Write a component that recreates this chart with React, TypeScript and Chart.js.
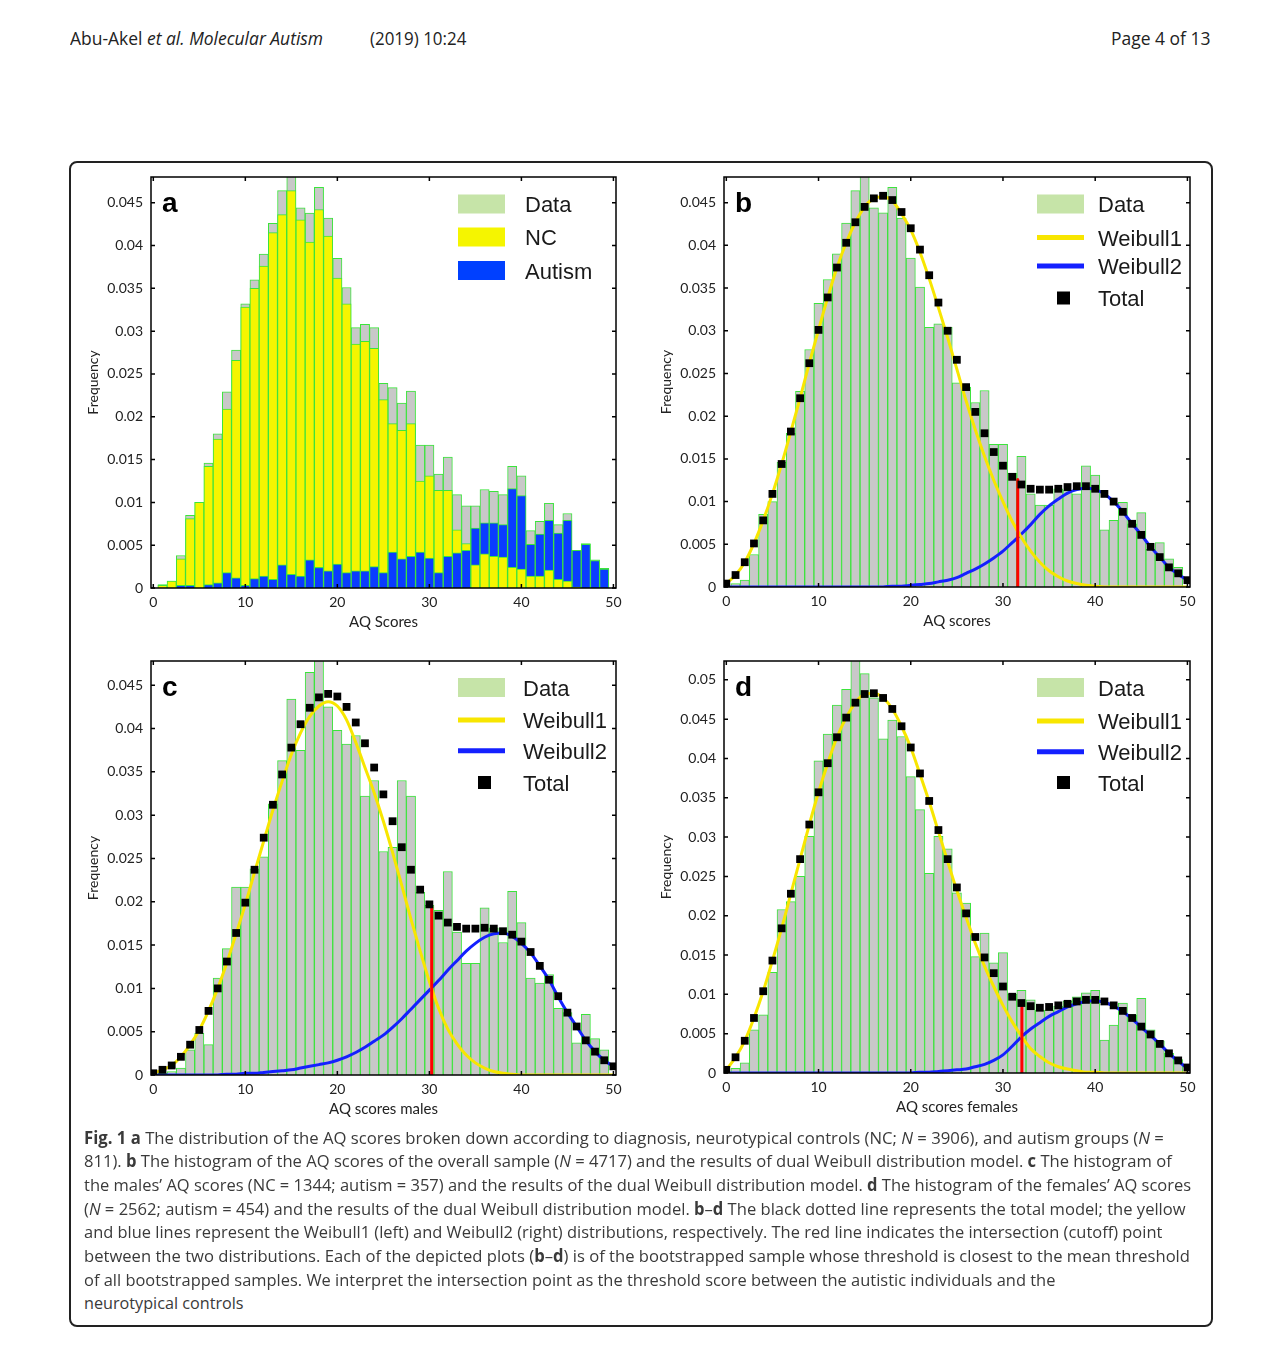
import React, { useEffect, useLayoutEffect, useRef } from "react";
import { Chart, registerables } from "chart.js";
Chart.register(...registerables);

// ---------------- data ----------------
const aqScores = [0, 1, 2, 3, 4, 5, 6, 7, 8, 9, 10, 11, 12, 13, 14, 15, 16, 17, 18, 19, 20, 21, 22, 23, 24, 25, 26, 27, 28, 29, 30, 31, 32, 33, 34, 35, 36, 37, 38, 39, 40, 41, 42, 43, 44, 45, 46, 47, 48, 49, 50];
const xTickValues = [0, 10, 20, 30, 40, 50];
const yTicks045 = [0, 0.005, 0.01, 0.015, 0.02, 0.025, 0.03, 0.035, 0.04, 0.045];
const yTicks050 = [0, 0.005, 0.01, 0.015, 0.02, 0.025, 0.03, 0.035, 0.04, 0.045, 0.05];

// panel a / b : overall sample
const allFreq = [0, 0.0004, 0.0008, 0.0038, 0.0085, 0.0100, 0.0146, 0.0180, 0.0229, 0.0278,
  0.0332, 0.0360, 0.0390, 0.0426, 0.0464, 0.0490, 0.0444, 0.0438, 0.0468, 0.0432,
  0.0385, 0.0351, 0.0304, 0.0308, 0.0304, 0.0239, 0.0234, 0.0216, 0.0230, 0.0167,
  0.0167, 0.0133, 0.0153, 0.0109, 0.0096, 0.0096, 0.0115, 0.0113, 0.0109, 0.0142,
  0.0131, 0.0067, 0.0078, 0.0099, 0.0074, 0.0087, 0.0044, 0.0052, 0.0033, 0.0023, 0];
const ncFreq = [0, 0.0003, 0.0008, 0.0034, 0.0081, 0.0100, 0.0142, 0.0174, 0.0209, 0.0266,
  0.0328, 0.0350, 0.0376, 0.0415, 0.0436, 0.0464, 0.0430, 0.0404, 0.0442, 0.0411,
  0.0362, 0.0332, 0.0285, 0.0288, 0.0280, 0.0220, 0.0192, 0.0184, 0.0192, 0.0125,
  0.0131, 0.0114, 0.0114, 0.0068, 0.0052, 0.0027, 0.0040, 0.0037, 0.0036, 0.0024,
  0.0022, 0.0014, 0.0014, 0.0021, 0.0010, 0.0008, 0.0001, 0, 0, 0, 0];
const autismFreq = [0, 0, 0, 0.0003, 0.0003, 0, 0.0004, 0.0006, 0.0018, 0.0012,
  0.0003, 0.0011, 0.0014, 0.0010, 0.0027, 0.0016, 0.0014, 0.0033, 0.0024, 0.0020,
  0.0028, 0.0018, 0.0020, 0.0020, 0.0025, 0.0018, 0.0042, 0.0034, 0.0037, 0.0042,
  0.0035, 0.0018, 0.0037, 0.0041, 0.0044, 0.0070, 0.0076, 0.0076, 0.0074, 0.0116,
  0.0108, 0.0051, 0.0063, 0.0079, 0.0064, 0.0079, 0.0044, 0.0051, 0.0032, 0.0022, 0];
const allTotalModel = [0.0004, 0.0014, 0.0029, 0.0051, 0.0078, 0.0109, 0.0144, 0.0182, 0.0221, 0.0262,
  0.0301, 0.0339, 0.0374, 0.0403, 0.0427, 0.0445, 0.0455, 0.0458, 0.0453, 0.0439,
  0.0420, 0.0395, 0.0365, 0.0333, 0.0300, 0.0266, 0.0234, 0.0205, 0.0180, 0.0158,
  0.0142, 0.0129, 0.0120, 0.0115, 0.0114, 0.0114, 0.0115, 0.0117, 0.0118, 0.0118,
  0.0115, 0.0109, 0.0100, 0.0088, 0.0074, 0.0061, 0.0047, 0.0035, 0.0023, 0.0016, 0.0008];
const allWeibull1 = [0.0004, 0.0014, 0.0029, 0.0051, 0.0078, 0.0109, 0.0144, 0.0182, 0.0221, 0.0262,
  0.0301, 0.0339, 0.0374, 0.0403, 0.0427, 0.0445, 0.0455, 0.0457, 0.0452, 0.0437,
  0.0418, 0.0392, 0.0361, 0.0327, 0.0292, 0.0255, 0.0218, 0.0184, 0.0153, 0.0125,
  0.0100, 0.0077, 0.0058, 0.0042, 0.0029, 0.0019, 0.0012, 0.0007, 0.0004, 0.0002,
  0.0001, 0, 0, 0, 0, 0, 0, 0, 0, 0, 0];
const allWeibull2 = [0, 0, 0, 0, 0, 0, 0, 0, 0, 0,
  0, 0, 0, 0, 0, 0, 0, 0, 0.0001, 0.0001,
  0.0002, 0.0003, 0.0004, 0.0006, 0.0008, 0.0011, 0.0016, 0.0021, 0.0027, 0.0034,
  0.0042, 0.0052, 0.0062, 0.0073, 0.0085, 0.0095, 0.0103, 0.0110, 0.0114, 0.0116,
  0.0114, 0.0109, 0.0100, 0.0088, 0.0074, 0.0061, 0.0047, 0.0035, 0.0023, 0.0015, 0.0008];

// panel c : males
const malesFreq = [0, 0.0002, 0.0004, 0.0008, 0.0029, 0.0048, 0.0035, 0.0112, 0.0146, 0.0217,
  0.0217, 0.0238, 0.0252, 0.0313, 0.0363, 0.0434, 0.0375, 0.0465, 0.0490, 0.0425,
  0.0398, 0.0382, 0.0392, 0.0322, 0.0340, 0.0258, 0.0263, 0.0340, 0.0322, 0.0211,
  0.0196, 0.0190, 0.0235, 0.0165, 0.0129, 0.0129, 0.0193, 0.0170, 0.0153, 0.0212,
  0.0176, 0.0112, 0.0106, 0.0116, 0.0077, 0.0072, 0.0037, 0.0070, 0.0042, 0.0029, 0];
const malesTotalModel = [0.0002, 0.0006, 0.0011, 0.0021, 0.0035, 0.0052, 0.0074, 0.0100, 0.0131, 0.0164,
  0.0199, 0.0237, 0.0274, 0.0312, 0.0347, 0.0378, 0.0405, 0.0424, 0.0436, 0.0440,
  0.0437, 0.0425, 0.0407, 0.0383, 0.0355, 0.0324, 0.0293, 0.0263, 0.0237, 0.0214,
  0.0197, 0.0184, 0.0176, 0.0171, 0.0169, 0.0169, 0.0170, 0.0169, 0.0166, 0.0162,
  0.0154, 0.0142, 0.0126, 0.0110, 0.0091, 0.0072, 0.0056, 0.0040, 0.0027, 0.0017, 0.0010];
const malesWeibull1 = [0.0002, 0.0006, 0.0011, 0.0021, 0.0035, 0.0052, 0.0074, 0.0100, 0.0130, 0.0163,
  0.0197, 0.0234, 0.0270, 0.0306, 0.0339, 0.0370, 0.0395, 0.0414, 0.0426, 0.0431,
  0.0426, 0.0410, 0.0384, 0.0355, 0.0326, 0.0293, 0.0257, 0.0219, 0.0180, 0.0143,
  0.0108, 0.0077, 0.0053, 0.0036, 0.0023, 0.0014, 0.0008, 0.0004, 0.0002, 0.0001,
  0, 0, 0, 0, 0, 0, 0, 0, 0, 0, 0];
const malesWeibull2 = [0, 0, 0, 0, 0, 0, 0, 0, 0.0001, 0.0001,
  0.0002, 0.0002, 0.0003, 0.0004, 0.0005, 0.0006, 0.0008, 0.0010, 0.0012, 0.0014,
  0.0017, 0.0021, 0.0026, 0.0032, 0.0039, 0.0046, 0.0055, 0.0065, 0.0076, 0.0087,
  0.0098, 0.0109, 0.0121, 0.0132, 0.0143, 0.0152, 0.0159, 0.0163, 0.0164, 0.0160,
  0.0152, 0.0141, 0.0126, 0.0110, 0.0090, 0.0072, 0.0056, 0.0040, 0.0027, 0.0017, 0.0010];

// panel d : females
const femalesFreq = [0, 0.0006, 0.0013, 0.0055, 0.0074, 0.0128, 0.0208, 0.0218, 0.0250, 0.0301,
  0.0397, 0.0431, 0.0468, 0.0488, 0.0530, 0.0508, 0.0477, 0.0425, 0.0449, 0.0428,
  0.0377, 0.0335, 0.0254, 0.0301, 0.0285, 0.0229, 0.0216, 0.0148, 0.0178, 0.0140,
  0.0153, 0.0100, 0.0105, 0.0093, 0.0080, 0.0080, 0.0085, 0.0091, 0.0097, 0.0102,
  0.0105, 0.0042, 0.0061, 0.0089, 0.0074, 0.0095, 0.0055, 0.0041, 0.0025, 0.0017, 0];
const femalesTotalModel = [0.0004, 0.0020, 0.0041, 0.0070, 0.0104, 0.0143, 0.0184, 0.0228, 0.0272, 0.0316,
  0.0357, 0.0394, 0.0427, 0.0452, 0.0471, 0.0482, 0.0483, 0.0477, 0.0463, 0.0441,
  0.0414, 0.0381, 0.0346, 0.0309, 0.0272, 0.0236, 0.0203, 0.0173, 0.0147, 0.0127,
  0.0110, 0.0097, 0.0089, 0.0085, 0.0083, 0.0084, 0.0086, 0.0088, 0.0091, 0.0093,
  0.0093, 0.0091, 0.0086, 0.0079, 0.0070, 0.0059, 0.0049, 0.0037, 0.0025, 0.0016, 0.0007];
const femalesWeibull1 = [0.0004, 0.0020, 0.0041, 0.0070, 0.0104, 0.0143, 0.0184, 0.0228, 0.0272, 0.0316,
  0.0357, 0.0394, 0.0427, 0.0452, 0.0471, 0.0482, 0.0483, 0.0477, 0.0463, 0.0441,
  0.0414, 0.0380, 0.0345, 0.0307, 0.0269, 0.0232, 0.0198, 0.0165, 0.0136, 0.0110,
  0.0086, 0.0065, 0.0047, 0.0031, 0.0021, 0.0013, 0.0008, 0.0005, 0.0003, 0.0001,
  0.0001, 0, 0, 0, 0, 0, 0, 0, 0, 0, 0];
const femalesWeibull2 = [0, 0, 0, 0, 0, 0, 0, 0, 0, 0,
  0, 0, 0, 0, 0, 0, 0, 0, 0, 0,
  0, 0.0001, 0.0001, 0.0002, 0.0003, 0.0004, 0.0005, 0.0008, 0.0011, 0.0016,
  0.0023, 0.0034, 0.0046, 0.0056, 0.0064, 0.0072, 0.0078, 0.0084, 0.0088, 0.0091,
  0.0092, 0.0090, 0.0085, 0.0078, 0.0069, 0.0058, 0.0048, 0.0037, 0.0025, 0.0015, 0.0006];

// cutoff (red line) for panels b, c, d
const cutoffScore = [31.6, 30.25, 32.05];
const cutoffTop = [0.0126, 0.0195, 0.0089];

// ---------------- styles ----------------
const GRAY = "#c8c8c8";
const EDGE = "#3ce43c";
const YELLOW = "#f5f500";
const BLUE = "#0a3cff";
const LINE_YELLOW = "#f8e600";
const LINE_BLUE = "#1420ff";
const LEG_GREEN = "#c6e4a8";
const TICK_FONT = "Lato";
const CAPTION_FONT = '"Liberation Sans Narrow", "Open Sans", sans-serif';

const pts = (ys: number[]) => aqScores.map((x, i) => ({ x, y: ys[i] }));

const barDs = (label: string, ys: number[], color: any, order: number) => ({
  type: "bar", label, data: pts(ys), backgroundColor: color, borderColor: EDGE,
  borderWidth: 1, grouped: false, barPercentage: 1, categoryPercentage: 1, order,
});
const curveDs = (label: string, ys: number[], color: string) => ({
  type: "line", label, data: pts(ys), borderColor: color, borderWidth: 3,
  pointRadius: 0, cubicInterpolationMode: "monotone", fill: false, order: 2,
});
const totalDs = (ys: number[]) => ({
  type: "line", label: "Total", data: pts(ys), showLine: false, pointStyle: "rect",
  pointRadius: 5.5, pointBackgroundColor: "#000", pointBorderColor: "#000", pointBorderWidth: 0, order: 0,
});
const cutoffDs = (x: number, top: number) => ({
  type: "line", label: "cutoff", data: [{ x, y: 0 }, { x, y: top }], borderColor: "#ff0000",
  borderWidth: 3, pointRadius: 0, borderCapStyle: "round", order: 1,
});

type LegendEntry = { kind: "box" | "line" | "square"; color: string; label: string };
type PanelCfg = {
  area: [number, number, number, number];
  yMax: number;
  yTicks: number[];
  xTitle: string;
  letter: string;
  boxFromRight: number;
  textFromRight: number;
  rows: number[];
  legend: LegendEntry[];
  datasets: any[];
};

const backVals = ncFreq.map((v, i) => Math.max(v, autismFreq[i]));
const backColors = ncFreq.map((v, i) => (v >= autismFreq[i] ? YELLOW : BLUE));
const frontVals = ncFreq.map((v, i) => Math.min(v, autismFreq[i]));
const frontColors = ncFreq.map((v, i) => (v >= autismFreq[i] ? BLUE : YELLOW));

const weibullLegend: LegendEntry[] = [
  { kind: "box", color: LEG_GREEN, label: "Data" },
  { kind: "line", color: LINE_YELLOW, label: "Weibull1" },
  { kind: "line", color: LINE_BLUE, label: "Weibull2" },
  { kind: "square", color: "#000", label: "Total" },
];

const panels: PanelCfg[] = [
  {
    area: [151, 177, 616, 588], yMax: 0.048, yTicks: yTicks045, xTitle: "AQ Scores", letter: "a",
    boxFromRight: 158, textFromRight: 91, rows: [27, 60, 93.5],
    legend: [
      { kind: "box", color: LEG_GREEN, label: "Data" },
      { kind: "box", color: YELLOW, label: "NC" },
      { kind: "box", color: "#0040ff", label: "Autism" },
    ],
    datasets: [
      barDs("Data", allFreq, GRAY, 5),
      barDs("larger group", backVals, backColors, 4),
      barDs("smaller group", frontVals, frontColors, 3),
    ],
  },
  {
    area: [724, 177, 1190, 587], yMax: 0.048, yTicks: yTicks045, xTitle: "AQ scores", letter: "b",
    boxFromRight: 153, textFromRight: 92, rows: [27, 60.5, 89, 121], legend: weibullLegend,
    datasets: [
      barDs("Data", allFreq, GRAY, 5),
      curveDs("Weibull1", allWeibull1, LINE_YELLOW),
      curveDs("Weibull2", allWeibull2, LINE_BLUE),
      cutoffDs(cutoffScore[0], cutoffTop[0]),
      totalDs(allTotalModel),
    ],
  },
  {
    area: [151, 661, 616, 1075], yMax: 0.0478, yTicks: yTicks045, xTitle: "AQ scores males", letter: "c",
    boxFromRight: 158, textFromRight: 93, rows: [26.5, 59, 89.7, 121.5], legend: weibullLegend,
    datasets: [
      barDs("Data", malesFreq, GRAY, 5),
      curveDs("Weibull1", malesWeibull1, LINE_YELLOW),
      curveDs("Weibull2", malesWeibull2, LINE_BLUE),
      cutoffDs(cutoffScore[1], cutoffTop[1]),
      totalDs(malesTotalModel),
    ],
  },
  {
    area: [724, 661, 1190, 1073], yMax: 0.0524, yTicks: yTicks050, xTitle: "AQ scores females", letter: "d",
    boxFromRight: 153, textFromRight: 92, rows: [26.5, 60, 90.7, 121.5], legend: weibullLegend,
    datasets: [
      barDs("Data", femalesFreq, GRAY, 5),
      curveDs("Weibull1", femalesWeibull1, LINE_YELLOW),
      curveDs("Weibull2", femalesWeibull2, LINE_BLUE),
      cutoffDs(cutoffScore[2], cutoffTop[2]),
      totalDs(femalesTotalModel),
    ],
  },
];

const Y_AXIS_W = 72;
const PAD_T = 20;
const PAD_R = 22;
const X_AXIS_H = 50;
const PAD_B = 7;

function Panel({ cfg }: { cfg: PanelCfg }) {
  const ref = useRef<HTMLCanvasElement>(null);
  const [l, t, r, b] = cfg.area;
  const cLeft = l - Y_AXIS_W;
  const cTop = t - PAD_T;
  const w = r - l + Y_AXIS_W + PAD_R;
  const h = b - t + PAD_T + X_AXIS_H + PAD_B;

  useEffect(() => {
    const decor = {
      id: "panelDecor" + cfg.letter,
      afterDraw(chart: any) {
        const { ctx, chartArea: ca, scales } = chart;
        ctx.save();
        ctx.strokeStyle = "#000";
        ctx.lineWidth = 1.5;
        ctx.strokeRect(ca.left, ca.top, ca.right - ca.left, ca.bottom - ca.top);
        const tl = 4;
        ctx.beginPath();
        for (const tk of scales.x.ticks) {
          const px = scales.x.getPixelForValue(tk.value);
          ctx.moveTo(px, ca.bottom); ctx.lineTo(px, ca.bottom - tl);
          ctx.moveTo(px, ca.top); ctx.lineTo(px, ca.top + tl);
        }
        for (const tk of scales.y.ticks) {
          const py = scales.y.getPixelForValue(tk.value);
          ctx.moveTo(ca.left, py); ctx.lineTo(ca.left + tl, py);
          ctx.moveTo(ca.right, py); ctx.lineTo(ca.right - tl, py);
        }
        ctx.stroke();
        // panel letter
        ctx.fillStyle = "#000";
        ctx.font = 'bold 28px "Liberation Sans", Arial, sans-serif';
        ctx.textAlign = "left";
        ctx.textBaseline = "alphabetic";
        ctx.fillText(cfg.letter, ca.left + 11, ca.top + 35);
        // legend
        const boxL = ca.right - cfg.boxFromRight;
        const boxW = 47;
        const textX = ca.right - cfg.textFromRight;
        cfg.legend.forEach((e, i) => {
          const cy = ca.top + cfg.rows[i];
          if (e.kind === "box") {
            ctx.fillStyle = e.color;
            ctx.fillRect(boxL, cy - 9.5, boxW, 19);
          } else if (e.kind === "line") {
            ctx.strokeStyle = e.color;
            ctx.lineWidth = 5;
            ctx.beginPath();
            ctx.moveTo(boxL, cy);
            ctx.lineTo(boxL + boxW, cy);
            ctx.stroke();
          } else {
            ctx.fillStyle = e.color;
            ctx.fillRect(boxL + 26.5 - 6.5, cy - 6.5, 13, 13);
          }
          ctx.fillStyle = "#1a1a1a";
          ctx.font = '22px "Liberation Sans", Arial, sans-serif';
          ctx.fillText(e.label, textX, cy + 8);
        });
        ctx.restore();
      },
    };

    const chart = new Chart(ref.current as HTMLCanvasElement, {
      type: "bar",
      data: { datasets: cfg.datasets as any },
      options: {
        responsive: false,
        animation: false,
        layout: { padding: { left: 0, top: PAD_T, right: PAD_R, bottom: PAD_B } },
        plugins: { legend: { display: false }, tooltip: { enabled: false } },
        scales: {
          x: {
            type: "linear",
            min: -0.25,
            max: 50.28,
            offset: false,
            afterBuildTicks: (s: any) => { s.ticks = xTickValues.map((v) => ({ value: v })); },
            afterFit: (s: any) => { s.height = X_AXIS_H; },
            grid: { display: false, drawTicks: false },
            border: { display: false },
            ticks: {
              autoSkip: false, maxRotation: 0, padding: 6, color: "#222",
              font: { family: TICK_FONT, size: 14 },
              callback: (v: any) => String(v),
            },
            title: {
              display: true, text: cfg.xTitle, color: "#222",
              font: { family: TICK_FONT, size: 15 }, padding: { top: 0, bottom: 7 },
            },
          },
          y: {
            type: "linear",
            min: 0,
            max: cfg.yMax,
            afterBuildTicks: (s: any) => { s.ticks = cfg.yTicks.map((v) => ({ value: v })); },
            afterFit: (s: any) => { s.width = Y_AXIS_W; },
            grid: { display: false, drawTicks: false },
            border: { display: false },
            ticks: {
              autoSkip: false, padding: 8, color: "#222",
              font: { family: TICK_FONT, size: 14 },
              callback: (v: any) => String(+Number(v).toFixed(3)),
            },
            title: {
              display: true, text: "Frequency", color: "#222",
              font: { family: TICK_FONT, size: 14 }, padding: { top: 5.6, bottom: 0 },
            },
          },
        },
      } as any,
      plugins: [decor],
    });
    return () => chart.destroy();
  }, [cfg]);

  return (
    <canvas
      ref={ref}
      width={w}
      height={h}
      style={{ position: "absolute", left: cLeft, top: cTop, width: w, height: h }}
    />
  );
}

function FitLine({ x, y, width, size, color = "#333", children }: any) {
  const ref = useRef<HTMLDivElement>(null);
  useLayoutEffect(() => {
    const el = ref.current;
    if (!el) return;
    const fit = () => {
      const nat = el.offsetWidth;
      if (nat > 0) el.style.transform = `scaleX(${width / nat})`;
    };
    fit();
    const fonts = (document as any).fonts;
    if (fonts && fonts.ready) fonts.ready.then(fit);
  }, [width]);
  return (
    <div
      ref={ref}
      style={{
        position: "absolute", left: x, top: y, whiteSpace: "nowrap",
        fontFamily: CAPTION_FONT, fontSize: size, lineHeight: `${size}px`,
        color, transformOrigin: "0 0",
      }}
    >
      {children}
    </div>
  );
}

const captionCenters = [1139, 1162, 1186, 1210, 1233, 1257, 1281, 1304];
const captionEnds = [1164, 1172, 1191, 1186, 1162, 1190, 1055, 244];

export default function App() {
  const capLines = [
    <><b>Fig. 1</b> <b>a</b> The distribution of the AQ scores broken down according to diagnosis, neurotypical controls (NC; <i>N</i> = 3906), and autism groups (<i>N</i> =</>,
    <>811). <b>b</b> The histogram of the AQ scores of the overall sample (<i>N</i> = 4717) and the results of dual Weibull distribution model. <b>c</b> The histogram of</>,
    <>the males’ AQ scores (NC = 1344; autism = 357) and the results of the dual Weibull distribution model. <b>d</b> The histogram of the females’ AQ scores</>,
    <>(<i>N</i> = 2562; autism = 454) and the results of the dual Weibull distribution model. <b>b</b>–<b>d</b> The black dotted line represents the total model; the yellow</>,
    <>and blue lines represent the Weibull1 (left) and Weibull2 (right) distributions, respectively. The red line indicates the intersection (cutoff) point</>,
    <>between the two distributions. Each of the depicted plots (<b>b</b>–<b>d</b>) is of the bootstrapped sample whose threshold is closest to the mean threshold</>,
    <>of all bootstrapped samples. We interpret the intersection point as the threshold score between the autistic individuals and the</>,
    <>neurotypical controls</>,
  ];
  return (
    <div style={{ position: "absolute", left: 0, top: 0, width: 1272, height: 1349, overflow: "hidden", background: "#fff" }}>
      <FitLine x={70} y={29} width={253} size={18} color="#222">
        Abu-Akel <i>et al. Molecular Autism</i>
      </FitLine>
      <FitLine x={370} y={29} width={96} size={18} color="#222">(2019) 10:24</FitLine>
      <FitLine x={1111} y={29} width={100} size={18} color="#222">Page 4 of 13</FitLine>

      <div
        style={{
          position: "absolute", left: 69, top: 161, width: 1144, height: 1166,
          border: "2px solid #222", borderRadius: 8, boxSizing: "border-box",
        }}
      />
      {panels.map((p) => (
        <Panel key={p.letter} cfg={p} />
      ))}
      {capLines.map((ln, i) => (
        <FitLine key={i} x={84} y={captionCenters[i] - 10} width={captionEnds[i] - 84} size={17} color="#3a3a3a">
          {ln}
        </FitLine>
      ))}
    </div>
  );
}
